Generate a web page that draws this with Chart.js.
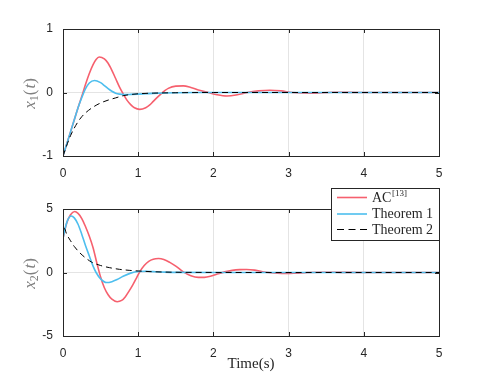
<!DOCTYPE html>
<html><head><meta charset="utf-8">
<script src="https://cdn.jsdelivr.net/npm/chart.js@4.4.0/dist/chart.umd.min.js"></script>
<style>
html,body{margin:0;padding:0;background:#fff;}
#wrap{position:relative;width:486px;height:382px;}
canvas{position:absolute;left:0;top:0;}
</style>
</head><body>
<div id="wrap"><canvas id="c1" width="486" height="382"></canvas><canvas id="c2" width="486" height="382"></canvas></div>
<script>
// ---------- data ----------
const xTicks = [0, 1, 2, 3, 4, 5];
const y1Ticks = [-1, 0, 1];
const y2Ticks = [-5, 0, 5];
const legendNames = ['AC', 'Theorem 1', 'Theorem 2'];
const legendSups = ['[13]', '', ''];
const xTitle = 'Time(s)';

// x1(t)
const tRed1  = [0,0.05,0.1,0.15,0.2,0.25,0.3,0.35,0.4,0.44,0.48,0.55,0.6,0.65,0.7,0.75,0.8,0.85,0.9,0.95,1.02,1.1,1.15,1.2,1.25,1.3,1.35,1.4,1.5,1.6,1.7,1.8,1.93,2.05,2.18,2.3,2.45,2.6,2.75,2.9,3.05,3.3,3.6,4.0,5.0];
const x1Red  = [-1,-0.81,-0.62,-0.43,-0.24,-0.06,0.13,0.3,0.44,0.52,0.56,0.53,0.46,0.35,0.22,0.09,-0.02,-0.12,-0.19,-0.24,-0.265,-0.24,-0.2,-0.14,-0.08,-0.025,0.025,0.065,0.1,0.105,0.08,0.04,0,-0.035,-0.054,-0.04,0,0.025,0.036,0.025,0,-0.012,0.005,0,0];
const tBlue1 = [0,0.05,0.1,0.15,0.2,0.25,0.3,0.35,0.42,0.5,0.55,0.6,0.65,0.7,0.75,0.82,0.9,1.0,1.1,1.2,1.35,1.5,1.8,2.2,5.0];
const x1Blue = [-1,-0.81,-0.62,-0.43,-0.24,-0.08,0.06,0.15,0.19,0.155,0.11,0.06,0.02,-0.01,-0.025,-0.032,-0.03,-0.026,-0.02,-0.014,-0.008,-0.004,-0.001,0,0];
const tDash1 = [0,0.03,0.06,0.1,0.15,0.2,0.25,0.3,0.4,0.5,0.6,0.7,0.8,0.9,1.0,1.2,1.5,2.0,5.0];
const x1Dash = [-1,-0.9,-0.8,-0.68,-0.56,-0.46,-0.38,-0.32,-0.23,-0.165,-0.12,-0.085,-0.05,-0.032,-0.02,-0.01,-0.004,0,0];

// x2(t)
const tRed2  = [0,0.05,0.1,0.156,0.2,0.25,0.3,0.35,0.4,0.45,0.5,0.55,0.6,0.65,0.72,0.78,0.83,0.88,0.93,0.98,1.02,1.08,1.14,1.2,1.27,1.34,1.42,1.5,1.6,1.7,1.8,1.88,1.96,2.05,2.15,2.25,2.35,2.44,2.55,2.7,2.85,2.97,3.1,3.25,3.45,3.7,4.0,5.0];
const x2Red  = [2.7,3.9,4.55,4.8,4.65,4.25,3.6,2.85,1.95,0.75,-0.35,-1.2,-1.75,-2.1,-2.3,-2.2,-1.9,-1.45,-0.95,-0.4,0.05,0.55,0.88,1.05,1.1,1.03,0.8,0.5,0.05,-0.25,-0.38,-0.38,-0.3,-0.12,0.05,0.17,0.23,0.24,0.19,0.02,-0.06,-0.08,-0.05,0,0.02,0.01,0,0];
const tBlue2 = [0,0.03,0.06,0.11,0.15,0.2,0.25,0.3,0.35,0.4,0.44,0.5,0.58,0.65,0.72,0.8,0.9,1.0,1.1,1.2,1.35,1.5,2.0,5.0];
const x2Blue = [2.7,3.5,4.1,4.45,4.3,3.8,3.0,2.1,1.3,0.5,0,-0.5,-0.79,-0.72,-0.55,-0.3,-0.05,0.08,0.1,0.07,0.03,0.01,0,0];
const tDash2 = [0,0.015,0.05,0.1,0.15,0.22,0.3,0.38,0.5,0.62,0.75,0.88,1.0,1.2,1.5,2.0,2.5,5.0];
const x2Dash = [2.7,3.5,3.0,2.5,2.05,1.57,1.15,0.82,0.55,0.38,0.25,0.17,0.12,0.06,0.02,0.005,0,0];

// ---------- styling ----------
const RED = '#f6606e';
const BLUE = '#4dbeee';
const DARK = '#262626';
const GRID = '#e4e4e4';
const SANS = '"Liberation Sans", Arial, sans-serif';
const SERIF = '"Liberation Serif", "Times New Roman", serif';

function pts(t, v) { return t.map((x, i) => ({ x: x, y: v[i] })); }

function makeDatasets(tR, vR, tB, vB, tD, vD) {
  const common = { pointRadius: 0, cubicInterpolationMode: 'monotone', fill: false };
  return [
    Object.assign({ label: legendNames[0], data: pts(tR, vR), borderColor: RED, borderWidth: 1.6, order: 3 }, common),
    Object.assign({ label: legendNames[1], data: pts(tB, vB), borderColor: BLUE, borderWidth: 1.6, order: 2 }, common),
    Object.assign({ label: legendNames[2], data: pts(tD, vD), borderColor: '#000', borderWidth: 1, borderDash: [6, 4], order: 1 }, common)
  ];
}

function drawYLabel(ctx, cx, cy, sub, color) {
  const parts = [
    { t: 'x', f: 'italic 17px ' + SERIF, dy: 0 },
    { t: sub, f: '12px ' + SERIF, dy: 4 },
    { t: '(', f: '17px ' + SERIF, dy: 0 },
    { t: 't', f: 'italic 17px ' + SERIF, dy: 0 },
    { t: ')', f: '17px ' + SERIF, dy: 0 }
  ];
  ctx.save();
  ctx.fillStyle = color;
  ctx.textBaseline = 'middle';
  ctx.textAlign = 'left';
  let w = 0;
  parts.forEach(p => { ctx.font = p.f; p.w = ctx.measureText(p.t).width + (p.t === '(' ? 1 : 0); w += p.w; });
  ctx.translate(cx, cy);
  ctx.rotate(-Math.PI / 2);
  let x = -w / 2;
  parts.forEach(p => { ctx.font = p.f; ctx.fillText(p.t, x, p.dy); x += p.w; });
  ctx.restore();
}

function framePlugin(id, yTicks, sub, extra) {
  return {
    id: 'frame' + id,
    afterDraw(chart) {
      const ctx = chart.ctx, a = chart.chartArea;
      const xs = chart.scales.x, ys = chart.scales.y;
      ctx.save();
      ctx.strokeStyle = DARK;
      ctx.lineWidth = 1;
      ctx.beginPath();
      xTicks.forEach(v => {
        const px = Math.round(xs.getPixelForValue(v)) + 0.5;
        ctx.moveTo(px, a.bottom); ctx.lineTo(px, a.bottom - 4);
        ctx.moveTo(px, a.top); ctx.lineTo(px, a.top + 4);
      });
      yTicks.forEach(v => {
        const py = Math.round(ys.getPixelForValue(v)) + 0.5;
        ctx.moveTo(a.left, py); ctx.lineTo(a.left + 4, py);
        ctx.moveTo(a.right, py); ctx.lineTo(a.right - 4, py);
      });
      ctx.stroke();
      ctx.strokeRect(Math.round(a.left) + 0.5, Math.round(a.top) + 0.5, Math.round(a.right - a.left), Math.round(a.bottom - a.top));
      ctx.restore();
      drawYLabel(ctx, 31, (a.top + a.bottom) / 2 + 1, sub, '#808080');
      if (extra) extra(chart);
    }
  };
}

function drawLegendAndTitle(chart) {
  const ctx = chart.ctx, a = chart.chartArea;
  ctx.save();
  // x title
  ctx.fillStyle = DARK;
  ctx.font = '15px ' + SERIF;
  ctx.textAlign = 'center';
  ctx.textBaseline = 'middle';
  ctx.fillText(xTitle, (a.left + a.right) / 2, 364);
  // legend box
  const bx = 331.5, by = 188.5, bw = 108, bh = 52;
  ctx.fillStyle = '#fff';
  ctx.fillRect(bx, by, bw, bh);
  ctx.strokeStyle = DARK;
  ctx.lineWidth = 1;
  ctx.strokeRect(bx, by, bw, bh);
  const rows = [197.5, 214, 229.5];
  const ds = chart.data.datasets;
  rows.forEach((ry, i) => {
    const d = ds[i];
    ctx.beginPath();
    ctx.strokeStyle = d.borderColor;
    ctx.lineWidth = d.borderWidth;
    ctx.setLineDash(d.borderDash ? [7, 4.5] : []);
    ctx.moveTo(337, ry); ctx.lineTo(367, ry);
    ctx.stroke();
    ctx.setLineDash([]);
    ctx.fillStyle = DARK;
    ctx.textAlign = 'left';
    ctx.textBaseline = 'middle';
    ctx.font = '14px ' + SERIF;
    ctx.fillText(legendNames[i], 372, ry + 0.5);
    if (legendSups[i]) {
      const w = ctx.measureText(legendNames[i]).width;
      ctx.font = '9px ' + SERIF;
      ctx.fillText(legendSups[i], 372 + w + 0.5, ry - 4);
    }
  });
  ctx.restore();
}

function makeOptions(yMin, yMax, yTk, padTop, padBottom, xHeight) {
  return {
    responsive: false,
    animation: false,
    devicePixelRatio: 1,
    layout: { padding: { top: padTop, right: 47, bottom: padBottom, left: 0 } },
    plugins: { legend: { display: false }, tooltip: { enabled: false } },
    events: [],
    scales: {
      x: {
        type: 'linear', min: 0, max: 5,
        afterBuildTicks: s => { s.ticks = xTicks.map(v => ({ value: v })); },
        afterFit: s => { s.height = xHeight; },
        ticks: { font: { family: SANS, size: 12 }, color: DARK, padding: 10, maxRotation: 0 },
        grid: { color: GRID, lineWidth: 1, drawTicks: false },
        border: { display: false }
      },
      y: {
        type: 'linear', min: yMin, max: yMax,
        afterBuildTicks: s => { s.ticks = yTk.map(v => ({ value: v })); },
        afterFit: s => { s.width = 63; },
        ticks: { font: { family: SANS, size: 12 }, color: DARK, padding: 10 },
        grid: { color: GRID, lineWidth: 1, drawTicks: false },
        border: { display: false }
      }
    }
  };
}

new Chart(document.getElementById('c1'), {
  type: 'line',
  data: { datasets: makeDatasets(tRed1, x1Red, tBlue1, x1Blue, tDash1, x1Dash) },
  options: makeOptions(-1, 1, y1Ticks, 29, 199, 27),
  plugins: [framePlugin(1, y1Ticks, '1')]
});

new Chart(document.getElementById('c2'), {
  type: 'line',
  data: { datasets: makeDatasets(tRed2, x2Red, tBlue2, x2Blue, tDash2, x2Dash) },
  options: makeOptions(-5, 5, y2Ticks, 209, 0, 46),
  plugins: [framePlugin(2, y2Ticks, '2', drawLegendAndTitle)]
});
</script>
</body></html>
